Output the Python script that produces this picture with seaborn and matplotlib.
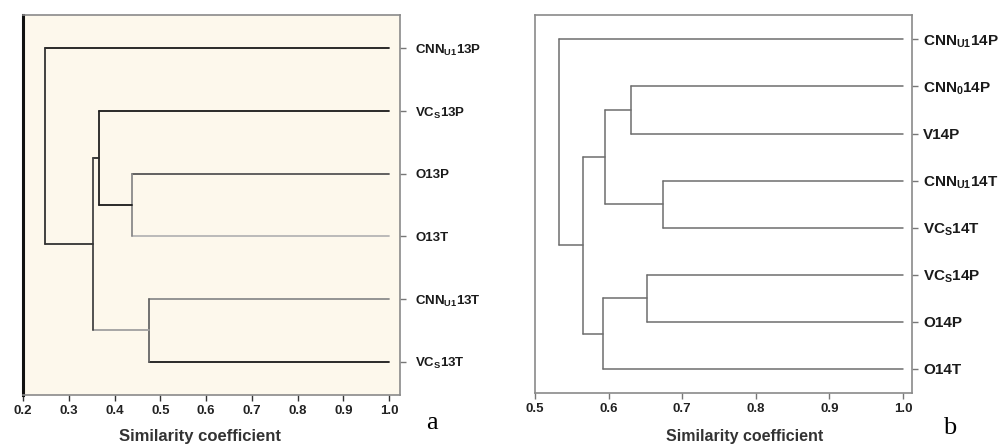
import numpy as np
import pandas as pd
import matplotlib
matplotlib.use("Agg")
import matplotlib.pyplot as plt
import seaborn as sns

sns.set_style("white")
plt.rcParams['font.family'] = ['Liberation Sans', 'DejaVu Sans']
plt.rcParams['mathtext.fontset'] = 'custom'
plt.rcParams['mathtext.rm'] = 'Liberation Sans'
plt.rcParams['mathtext.bf'] = 'Liberation Sans:bold'
plt.rcParams['mathtext.default'] = 'bf'

# ---------------- data ----------------
leaves_a = [r"CNN$_{\mathbf{U1}}$13P", r"VC$_{\mathbf{S}}$13P", "O13P", "O13T",
            r"CNN$_{\mathbf{U1}}$13T", r"VC$_{\mathbf{S}}$13T"]
# merges: (child1, child2, similarity); new node ids start at len(leaves)
merges_a = [(2, 3, 0.438), (4, 5, 0.475), (1, 6, 0.367), (8, 7, 0.354), (0, 9, 0.248)]
ticks_a = [0.2, 0.3, 0.4, 0.5, 0.6, 0.7, 0.8, 0.9, 1.0]
ticklabels_a = ["0.2", "0.3", "0.4", "0.5", "0.6", "0.7", "0.8", "0.9", "1.0"]

leaves_b = [r"CNN$_{\mathbf{U1}}$14P", r"CNN$_{\mathbf{0}}$14P", "V14P",
            r"CNN$_{\mathbf{U1}}$14T", r"VC$_{\mathbf{S}}$14T",
            r"VC$_{\mathbf{S}}$14P", "O14P", "O14T"]
merges_b = [(1, 2, 0.630), (3, 4, 0.674), (8, 9, 0.595), (5, 6, 0.652), (11, 7, 0.593),
            (10, 12, 0.565), (0, 13, 0.532)]
ticks_b = [0.5, 0.6, 0.7, 0.8, 0.9, 1.0]
ticklabels_b = ["0.5", "0.6", "0.7", "0.8", "0.9", "1.0"]

xlabel = "Similarity coefficient"

# styles (node lead-in colours, vertical link colours)
node_col_a = ['#1a1a1a', '#1a1a1a', '#555555', '#b5b5b5', '#8c8c8c', '#1a1a1a',
              '#1a1a1a', '#a0a0a0', '#2a2a2a', '#333333']
vert_col_a = ['#8a8a8a', '#666666', '#222222', '#444444', '#333333']


def dendro_segments(n, merges):
    xs = {i: 1.0 for i in range(n)}
    ys = {i: float(i) for i in range(n)}
    segs = []
    for k, (c1, c2, s) in enumerate(merges):
        nid = n + k
        xs[nid] = s
        ys[nid] = (ys[c1] + ys[c2]) / 2.0
        segs.append(("h%d" % c1, [xs[c1], s], [ys[c1], ys[c1]]))
        segs.append(("h%d" % c2, [xs[c2], s], [ys[c2], ys[c2]]))
        segs.append(("v%d" % k, [s, s], [ys[c1], ys[c2]]))
    rows = []
    for sid, sx, sy in segs:
        for px, py in zip(sx, sy):
            rows.append({"seg": sid, "x": px, "y": py})
    return pd.DataFrame(rows)


fig = plt.figure(figsize=(10.05, 4.45), dpi=100)
ax_a = fig.add_axes([0.0229, 0.1124, 0.3751, 0.854])
ax_b = fig.add_axes([0.5323, 0.1169, 0.3751, 0.849])

# ---------- panel a ----------
df_a = dendro_segments(len(leaves_a), merges_a)
pal_a = {}
for sid in df_a["seg"].unique():
    if sid[0] == 'h':
        pal_a[sid] = node_col_a[int(sid[1:])]
    else:
        pal_a[sid] = vert_col_a[int(sid[1:])]
sns.lineplot(data=df_a, x="x", y="y", hue="seg", palette=pal_a, units="seg",
             estimator=None, sort=False, legend=False, linewidth=1.3, ax=ax_a)
ax_a.set_facecolor('#fdf8ec')
ax_a.set_xlim(0.2, 1.024)
ax_a.set_ylim(len(leaves_a) - 0.47, -0.53)

# ---------- panel b ----------
df_b = dendro_segments(len(leaves_b), merges_b)
pal_b = {sid: '#6e6e6e' for sid in df_b["seg"].unique()}
sns.lineplot(data=df_b, x="x", y="y", hue="seg", palette=pal_b, units="seg",
             estimator=None, sort=False, legend=False, linewidth=1.1, ax=ax_b)
ax_b.set_facecolor('white')
ax_b.set_xlim(0.5, 1.012)
ax_b.set_ylim(len(leaves_b) - 0.49, -0.515)

cfg = [(ax_a, leaves_a, ticks_a, ticklabels_a, 9.5, 7, 12, 0.47, -0.11),
       (ax_b, leaves_b, ticks_b, ticklabels_b, 11, 4, 11.5, 0.557, -0.116)]
for ax, leaves, ticks, tl, fs, pad, lfs, lx, ly in cfg:
    ax.yaxis.tick_right()
    ax.set_yticks(range(len(leaves)))
    ax.set_yticklabels(leaves, fontsize=fs, fontweight='bold', color='#1a1a1a')
    ax.set_xticks(ticks)
    ax.set_xticklabels(tl, fontsize=9.5, fontweight='bold', color='#222222')
    ax.tick_params(axis='both', which='both', direction='out', length=4, width=1,
                   color='#777777', bottom=True, right=True, left=False, top=False)
    ax.tick_params(axis='y', pad=pad)
    ax.set_ylabel("")
    ax.set_xlabel(xlabel, fontsize=lfs, fontweight='bold', color='#333333')
    ax.xaxis.set_label_coords(lx, ly)
    ax.xaxis.label.set_verticalalignment('center')
    for sp in ax.spines.values():
        sp.set_visible(True)
        sp.set_color('#8a8a8a')
        sp.set_linewidth(1.2)

ax_a.spines['left'].set_color('#111111')
ax_a.spines['left'].set_linewidth(2.2)
ax_a.tick_params(axis='x', color='#333333')

fig.text(0.424, 0.035, "a", fontsize=19, family='Liberation Serif', color='black')
fig.text(0.938, 0.025, "b", fontsize=19, family='Liberation Serif', color='black')

fig.savefig("out.png", dpi=100, facecolor='white')
